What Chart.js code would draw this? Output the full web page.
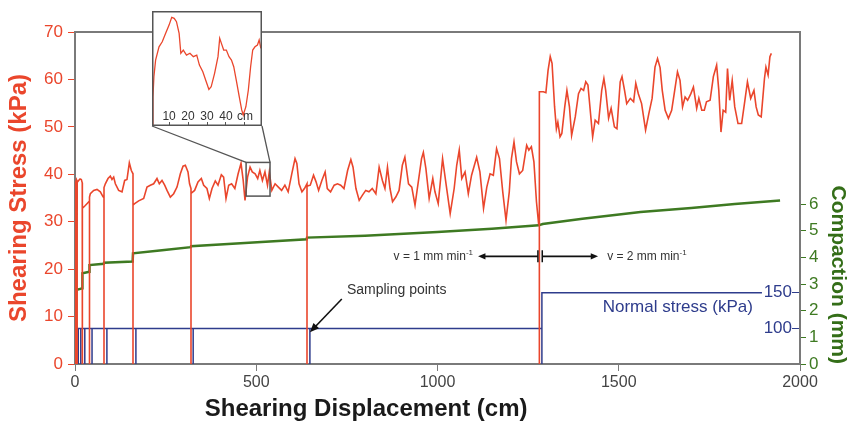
<!DOCTYPE html>
<html>
<head>
<meta charset="utf-8">
<script src="https://cdn.jsdelivr.net/npm/chart.js@4.4.1/dist/chart.umd.min.js"></script>
<style>
  body { margin: 0; background: #fff; }
  #wrap { position: relative; width: 854px; height: 426px; }
  #main { position: absolute; left: 0; top: 0; }
  #zoom { position: absolute; left: 152px; top: 11px; }
</style>
</head>
<body>
<div id="wrap">
  <canvas id="main" width="854" height="426"></canvas>
  <canvas id="zoom" width="110" height="115"></canvas>
</div>
<script>
// shearing stress trace (cm, kPa); drops to 0 at each sampling point
const shearX = [0, 0.5, 2, 2, 2, 4, 6, 6, 6, 10, 14, 17.5, 20, 20, 20, 21, 27, 33, 38, 40, 40, 40,
  42.3, 51.5, 60.7, 69.9, 76.3, 80, 80, 80, 83.7, 91, 97.5, 102, 106.7, 111.3, 120.4, 129.7, 137,
  143.4, 149.9, 155.4, 160, 160, 160, 164.6, 175.6, 189.5, 198.6, 207.8, 217, 226.2, 232.6, 240,
  247.4, 253.8, 263, 272.2, 281.4, 290.6, 298, 304.4, 311.7, 316, 320, 320, 320, 330, 339.3, 348.5,
  355, 364, 370.6, 378, 387, 394.5, 403.7, 410, 416.6, 424, 432, 441, 450, 458, 464, 469, 476, 483,
  489, 497, 504, 510, 517, 524, 531, 536, 543, 552, 561, 570, 579, 588, 598, 607, 612, 618, 626, 633,
  640, 640, 640, 649, 658, 665, 672, 681, 690, 696, 705, 715, 724, 733, 742, 752, 761, 767, 775, 784,
  793, 802, 811, 820, 830, 839, 848, 855, 862, 869, 876, 885, 894, 903, 910, 920, 929, 938, 947, 956,
  961, 968, 977, 987, 993, 1002, 1014, 1024, 1035, 1046, 1053, 1060, 1067, 1076, 1085, 1094, 1108,
  1117, 1127, 1136, 1145, 1154, 1163, 1171, 1180, 1189, 1198, 1204, 1211, 1218, 1226, 1235, 1246,
  1252, 1259, 1266, 1273, 1278, 1281, 1281, 1281, 1292, 1299, 1305, 1311, 1316, 1323, 1328, 1332,
  1338, 1343, 1351, 1357, 1364, 1370, 1380, 1389, 1396, 1403, 1409, 1415, 1418, 1428, 1435, 1444,
  1453, 1459, 1464, 1472, 1479, 1488, 1495, 1504, 1509, 1516, 1522, 1532, 1541, 1547, 1554, 1563,
  1574, 1583, 1592, 1600, 1607, 1614, 1620, 1628, 1637, 1646, 1653, 1662, 1669, 1676, 1683, 1690,
  1699, 1706, 1715, 1721, 1729, 1736, 1742, 1752, 1761, 1770, 1776, 1782, 1788, 1795, 1800, 1806,
  1813, 1820, 1829, 1839, 1848, 1855, 1864, 1873, 1879, 1885, 1893, 1902, 1906, 1912, 1917, 1921];
const shearKPa = [0, 36.5, 38.4, 0, 38.2, 38.9, 38.5, 0, 38.3, 38.7, 39.0, 38.9, 38.2, 0, 32.5, 32.8,
  33.3, 33.8, 34.2, 34.0, 0, 35.2, 35.9, 36.6, 36.8, 36.3, 35.4, 35.0, 0, 37.2, 38.0, 39.1, 39.6, 38.9,
  39.4, 38.0, 36.6, 36.3, 38.7, 38.9, 42.4, 40.8, 40.1, 0, 33.5, 33.8, 34.4, 34.9, 37.3, 37.7, 38.0,
  39.1, 38.0, 38.7, 37.7, 36.6, 35.2, 35.9, 37.3, 40.1, 41.7, 41.9, 40.5, 38.0, 37.0, 0, 36.0, 36.6,
  38.4, 39.1, 37.7, 37.0, 34.9, 37.0, 38.6, 37.7, 39.9, 39.4, 34.9, 37.7, 38.0, 37.0, 40.1, 42.3, 38.7,
  34.5, 39.4, 41.5, 40.5, 40.1, 39.1, 40.8, 38.7, 40.5, 37.7, 40.5, 36.6, 38.0, 37.3, 36.6, 37.7, 36.3,
  40.1, 43.3, 42.3, 38.0, 36.3, 37.0, 38.0, 0, 37.5, 37.7, 39.8, 38.4, 36.6, 38.7, 40.5, 37.0, 36.3,
  37.7, 38.0, 37.7, 37.0, 40.8, 43.1, 41.5, 37.0, 34.5, 35.6, 36.6, 36.3, 37.0, 35.9, 41.5, 38.7, 37.0,
  41.5, 37.0, 34.2, 35.2, 36.6, 41.9, 43.6, 38.0, 37.3, 33.5, 38.4, 43.3, 44.6, 41.2, 34.9, 39.1, 36.3,
  33.8, 43.3, 37.7, 31.7, 37.0, 41.9, 45.1, 39.1, 40.5, 35.9, 39.8, 43.6, 40.5, 32.8, 37.3, 40.1, 39.8,
  45.4, 43.3, 36.3, 30.3, 36.3, 43.3, 46.8, 42.6, 40.1, 40.8, 46.1, 45.1, 45.8, 42.6, 34.2, 30.3, 31.5,
  0, 57.4, 57.4, 57.2, 61.9, 64.8, 63.4, 54.2, 49.6, 51.0, 47.9, 48.6, 54.2, 57.7, 54.2, 48.2, 52.1,
  57.0, 58.1, 57.7, 59.5, 58.8, 56.3, 47.9, 51.4, 50.7, 57.7, 60.2, 57.7, 51.8, 53.9, 50.0, 49.6, 59.5,
  60.6, 57.7, 54.9, 56.0, 55.3, 59.2, 57.0, 54.9, 49.3, 52.8, 56.0, 62.6, 64.4, 62.5, 57.7, 53.5, 51.8,
  53.5, 57.0, 61.6, 59.8, 54.2, 56.3, 55.6, 57.0, 58.4, 53.9, 56.0, 53.5, 53.5, 55.3, 55.6, 60.6, 63.0,
  57.7, 48.9, 53.5, 53.1, 62.3, 55.6, 59.8, 54.2, 50.7, 50.7, 55.6, 59.5, 56.0, 57.7, 54.2, 52.5, 52.1,
  60.2, 62.6, 60.9, 64.8, 65.5];

// compaction (cm, mm)
const compactionX = [0, 0.5, 1, 2, 4, 10, 20, 20.5, 39.5, 40, 79, 80, 159, 160, 240, 319, 320, 480,
  639, 640, 800, 1000, 1150, 1279, 1290, 1400, 1560, 1700, 1820, 1945];
const compactionMM = [0, 1.3, 2.0, 2.6, 2.78, 2.8, 2.84, 3.4, 3.46, 3.71, 3.76, 3.8, 3.84, 4.15, 4.27,
  4.38, 4.42, 4.55, 4.68, 4.74, 4.81, 4.95, 5.07, 5.2, 5.25, 5.45, 5.7, 5.85, 6.0, 6.13];

// normal stress (cm, kPa); unloaded at each sampling point
const normalX = [0, 1.5, 9, 9, 9, 16, 16, 16, 27, 27, 27, 47, 47, 47, 88, 88, 88, 168, 168, 168,
  326, 326, 326, 648, 648, 648, 1288, 1288, 1288, 1895];
const normalKPa = [0, 100, 100, 0, 100, 100, 0, 100, 100, 0, 100, 100, 0, 100, 100, 0, 100, 100, 0,
  100, 100, 0, 100, 100, 0, 100, 100, 0, 150, 150];

// close-up of the trace between 472 and 538 cm
const zoomX = [1.5, 1.5, 2, 2.9, 4.7, 6.4, 8.2, 10, 11.4, 12.7, 13.9, 15.3, 16.2, 17.5, 19.2, 21, 22.8,
  24.6, 26, 27.8, 29.6, 31, 32.2, 34, 35.8, 36.7, 37.6, 38.8, 40.2, 41.6, 42.9, 44.1, 45.6, 47, 48.3,
  49.1, 50.5, 51.8, 53, 54.1, 55.3, 56.6, 57.5, 58.4];
const zoomKPa = [35.3, 37.2, 38.44, 39.47, 40.29, 40.6, 41.12, 41.63, 42.11, 42.05, 41.84, 41.12, 39.89,
  40.09, 39.78, 39.89, 39.68, 39.78, 39.16, 38.75, 38.13, 37.66, 37.82, 38.65, 39.68, 40.81, 40.5,
  40.09, 40.09, 39.68, 39.47, 39.06, 38.13, 37.21, 36.39, 36.08, 36.59, 37.62, 39.06, 40.09, 40.29,
  40.4, 40.71, 40.19];
const zoomWindow = { from: 472, to: 538, low: 35.4, high: 42.5 };

const compactionTicks = [0, 1, 2, 3, 4, 5, 6];
const normalTicks = [100, 150];
const zoomTicks = [10, 20, 30, 40, 50];
const zoomTickLabels = ['10', '20', '30', '40', 'cm'];

const RED = 'rgb(234, 70, 44)';
const GREEN = 'rgb(62, 122, 34)';
const BLUE = 'rgb(46, 60, 140)';
const FRAME = '#7a7a7a';
const FONT = "'Liberation Sans', Arial, sans-serif";
const ZOOM_BOX = { left: 152, top: 11, width: 110, height: 115 };

function pts(xs, ys) {
    return xs.map((x, i) => ({ x: x, y: ys[i] }));
}

function arrow(ctx, x1, y1, x2, y2, head) {
    const a = Math.atan2(y2 - y1, x2 - x1);
    ctx.beginPath();
    ctx.moveTo(x1, y1);
    ctx.lineTo(x2 - Math.cos(a) * head * 0.8, y2 - Math.sin(a) * head * 0.8);
    ctx.stroke();
    ctx.beginPath();
    ctx.moveTo(x2, y2);
    ctx.lineTo(x2 - head * Math.cos(a - 0.4), y2 - head * Math.sin(a - 0.4));
    ctx.lineTo(x2 - head * Math.cos(a + 0.4), y2 - head * Math.sin(a + 0.4));
    ctx.closePath();
    ctx.fill();
}

// "v = n mm min" with a raised -1
function speedLabel(ctx, text, x, y, alignRight) {
    ctx.font = '12px ' + FONT;
    const w1 = ctx.measureText(text).width;
    ctx.font = '8px ' + FONT;
    const w2 = ctx.measureText('-1').width;
    const start = alignRight ? x - w1 - w2 : x;
    ctx.textAlign = 'left';
    ctx.textBaseline = 'middle';
    ctx.font = '12px ' + FONT;
    ctx.fillText(text, start, y);
    ctx.font = '8px ' + FONT;
    ctx.fillText('-1', start + w1, y - 4);
}

const annotations = {
    id: 'annotations',
    beforeDatasetsDraw(chart) {
        const { ctx, chartArea } = chart;
        ctx.save();
        ctx.strokeStyle = FRAME;
        ctx.lineWidth = 2;
        ctx.beginPath();
        ctx.moveTo(chartArea.left, chartArea.top);
        ctx.lineTo(chartArea.right, chartArea.top);
        ctx.stroke();
        ctx.restore();
    },
    afterDraw(chart) {
        const ctx = chart.ctx;
        const sx = chart.scales.x;
        const sy = chart.scales.y;
        const sn = chart.scales.yNormal;
        ctx.save();

        // x axis title, set a little left of the plot centre
        ctx.fillStyle = '#1a1a1a';
        ctx.font = 'bold 24px ' + FONT;
        ctx.textAlign = 'center';
        ctx.textBaseline = 'middle';
        ctx.fillText('Shearing Displacement (cm)', sx.getPixelForValue(803), sx.bottom - 17);

        // window shown in the close-up, with connectors
        const bx1 = sx.getPixelForValue(zoomWindow.from);
        const bx2 = sx.getPixelForValue(zoomWindow.to);
        const by1 = sy.getPixelForValue(zoomWindow.high);
        const by2 = sy.getPixelForValue(zoomWindow.low);
        ctx.strokeStyle = '#555';
        ctx.lineWidth = 1.5;
        ctx.strokeRect(bx1, by1, bx2 - bx1, by2 - by1);
        ctx.lineWidth = 1.3;
        ctx.beginPath();
        ctx.moveTo(bx1, by1);
        ctx.lineTo(ZOOM_BOX.left, ZOOM_BOX.top + ZOOM_BOX.height);
        ctx.moveTo(bx2, by1);
        ctx.lineTo(ZOOM_BOX.left + ZOOM_BOX.width, ZOOM_BOX.top + ZOOM_BOX.height);
        ctx.stroke();

        // sampling points label
        ctx.fillStyle = '#333';
        ctx.strokeStyle = '#111';
        ctx.font = '14px ' + FONT;
        ctx.textAlign = 'left';
        ctx.textBaseline = 'middle';
        ctx.fillText('Sampling points', sx.getPixelForValue(750), sy.getPixelForValue(15.5));
        ctx.lineWidth = 1.6;
        ctx.fillStyle = '#111';
        arrow(ctx, sx.getPixelForValue(736), sy.getPixelForValue(13.7),
            sx.getPixelForValue(648), sy.getPixelForValue(6.7), 10);

        // shearing rate arrows
        const ay = sy.getPixelForValue(22.7);
        const l = sx.getPixelForValue(1277);
        const r = sx.getPixelForValue(1289);
        arrow(ctx, l, ay, sx.getPixelForValue(1112), ay, 8);
        arrow(ctx, r, ay, sx.getPixelForValue(1443), ay, 8);
        ctx.lineWidth = 1.5;
        ctx.beginPath();
        ctx.moveTo(l, ay - 6); ctx.lineTo(l, ay + 6);
        ctx.moveTo(r, ay - 6); ctx.lineTo(r, ay + 6);
        ctx.stroke();
        ctx.fillStyle = '#333';
        speedLabel(ctx, 'v = 1 mm min', sx.getPixelForValue(1098), ay, true);
        speedLabel(ctx, 'v = 2 mm min', sx.getPixelForValue(1468), ay, false);

        // normal stress label
        ctx.fillStyle = BLUE;
        ctx.font = '17px ' + FONT;
        ctx.textAlign = 'right';
        ctx.textBaseline = 'middle';
        ctx.fillText('Normal stress (kPa)', sx.getPixelForValue(1870), sn.getPixelForValue(130));
        ctx.restore();
    }
};

new Chart(document.getElementById('main'), {
    type: 'line',
    data: {
        datasets: [{
            label: 'Shearing stress',
            data: pts(shearX, shearKPa),
            borderColor: RED,
            borderWidth: 1.6,
            yAxisID: 'y'
        }, {
            label: 'Compaction',
            data: pts(compactionX, compactionMM),
            borderColor: GREEN,
            borderWidth: 2.5,
            yAxisID: 'yComp'
        }, {
            label: 'Normal stress',
            data: pts(normalX, normalKPa),
            borderColor: BLUE,
            borderWidth: 1.5,
            yAxisID: 'yNormal'
        }]
    },
    options: {
        responsive: false,
        animation: false,
        devicePixelRatio: 1,
        layout: { padding: { top: 32, left: 0, right: 0, bottom: 0 } },
        elements: { point: { radius: 0 }, line: { tension: 0 } },
        plugins: { legend: { display: false }, tooltip: { enabled: false } },
        scales: {
            x: {
                type: 'linear', min: 0, max: 2000,
                ticks: { stepSize: 500, color: '#444', font: { size: 16, family: FONT }, padding: 2,
                    callback: v => String(v) },
                grid: { drawOnChartArea: false, tickLength: 7, color: FRAME },
                border: { color: FRAME, width: 2 },
                afterFit: s => { s.height = 62; }
            },
            y: {
                type: 'linear', position: 'left', min: 0, max: 70,
                ticks: { stepSize: 10, color: RED, font: { size: 17, family: FONT }, padding: 5 },
                grid: { drawOnChartArea: false, tickLength: 7, color: RED },
                border: { color: FRAME, width: 2 },
                title: { display: true, text: 'Shearing Stress (kPa)', color: RED,
                    font: { size: 24, weight: 'bold', family: FONT }, padding: { top: 5, bottom: 0 } },
                afterFit: s => { s.width = 75; }
            },
            yComp: {
                type: 'linear', axis: 'y', position: 'right', min: 0, max: 12.45,
                afterBuildTicks: s => { s.ticks = compactionTicks.map(v => ({ value: v })); },
                ticks: { color: GREEN, font: { size: 17, family: FONT }, padding: 3 },
                grid: { drawOnChartArea: false, tickLength: 6, color: GREEN },
                border: { color: FRAME, width: 2 },
                title: { display: true, text: 'Compaction (mm)', color: 'rgb(52, 110, 24)', align: 'start',
                    font: { size: 21, weight: 'bold', family: FONT }, padding: { top: 4, bottom: 0 } },
                afterFit: s => { s.width = 54; }
            },
            // sits just inside the right axis; tick marks point right towards it
            yNormal: {
                type: 'linear', axis: 'y', position: { x: 1978 }, min: 50, max: 516,
                afterBuildTicks: s => { s.ticks = normalTicks.map(v => ({ value: v })); },
                ticks: { color: BLUE, font: { size: 17, family: FONT }, padding: 0 },
                grid: { drawOnChartArea: false, tickLength: -8, color: BLUE },
                border: { display: false }
            }
        }
    },
    plugins: [annotations]
});

// close-up panel
const zoomFrame = {
    id: 'zoomFrame',
    beforeDraw(chart) {
        const ctx = chart.ctx;
        ctx.save();
        ctx.fillStyle = '#fff';
        ctx.fillRect(0, 0, chart.width, chart.height);
        ctx.restore();
    },
    afterDraw(chart) {
        const ctx = chart.ctx;
        ctx.save();
        ctx.strokeStyle = '#555';
        ctx.lineWidth = 1.5;
        ctx.strokeRect(0.75, 0.75, chart.width - 1.5, chart.height - 1.5);
        ctx.restore();
    }
};

new Chart(document.getElementById('zoom'), {
    type: 'line',
    data: {
        datasets: [{
            data: pts(zoomX, zoomKPa),
            borderColor: RED,
            borderWidth: 1.3
        }]
    },
    options: {
        responsive: false,
        animation: false,
        devicePixelRatio: 1,
        layout: { padding: 0 },
        elements: { point: { radius: 0 }, line: { tension: 0 } },
        plugins: { legend: { display: false }, tooltip: { enabled: false } },
        scales: {
            // axis anchored on the bottom edge, labels drawn inside the panel
            x: {
                type: 'linear', min: 1, max: 59, position: { y: zoomWindow.low },
                afterBuildTicks: s => { s.ticks = zoomTicks.map(v => ({ value: v })); },
                ticks: { color: '#333', font: { size: 12, family: FONT }, padding: -13,
                    maxRotation: 0, autoSkip: false, callback: (v, i) => zoomTickLabels[i] },
                grid: { drawOnChartArea: false, tickLength: -4, color: '#555' },
                border: { display: false }
            },
            y: { display: false, min: zoomWindow.low, max: zoomWindow.high }
        }
    },
    plugins: [zoomFrame]
});
</script>
</body>
</html>
